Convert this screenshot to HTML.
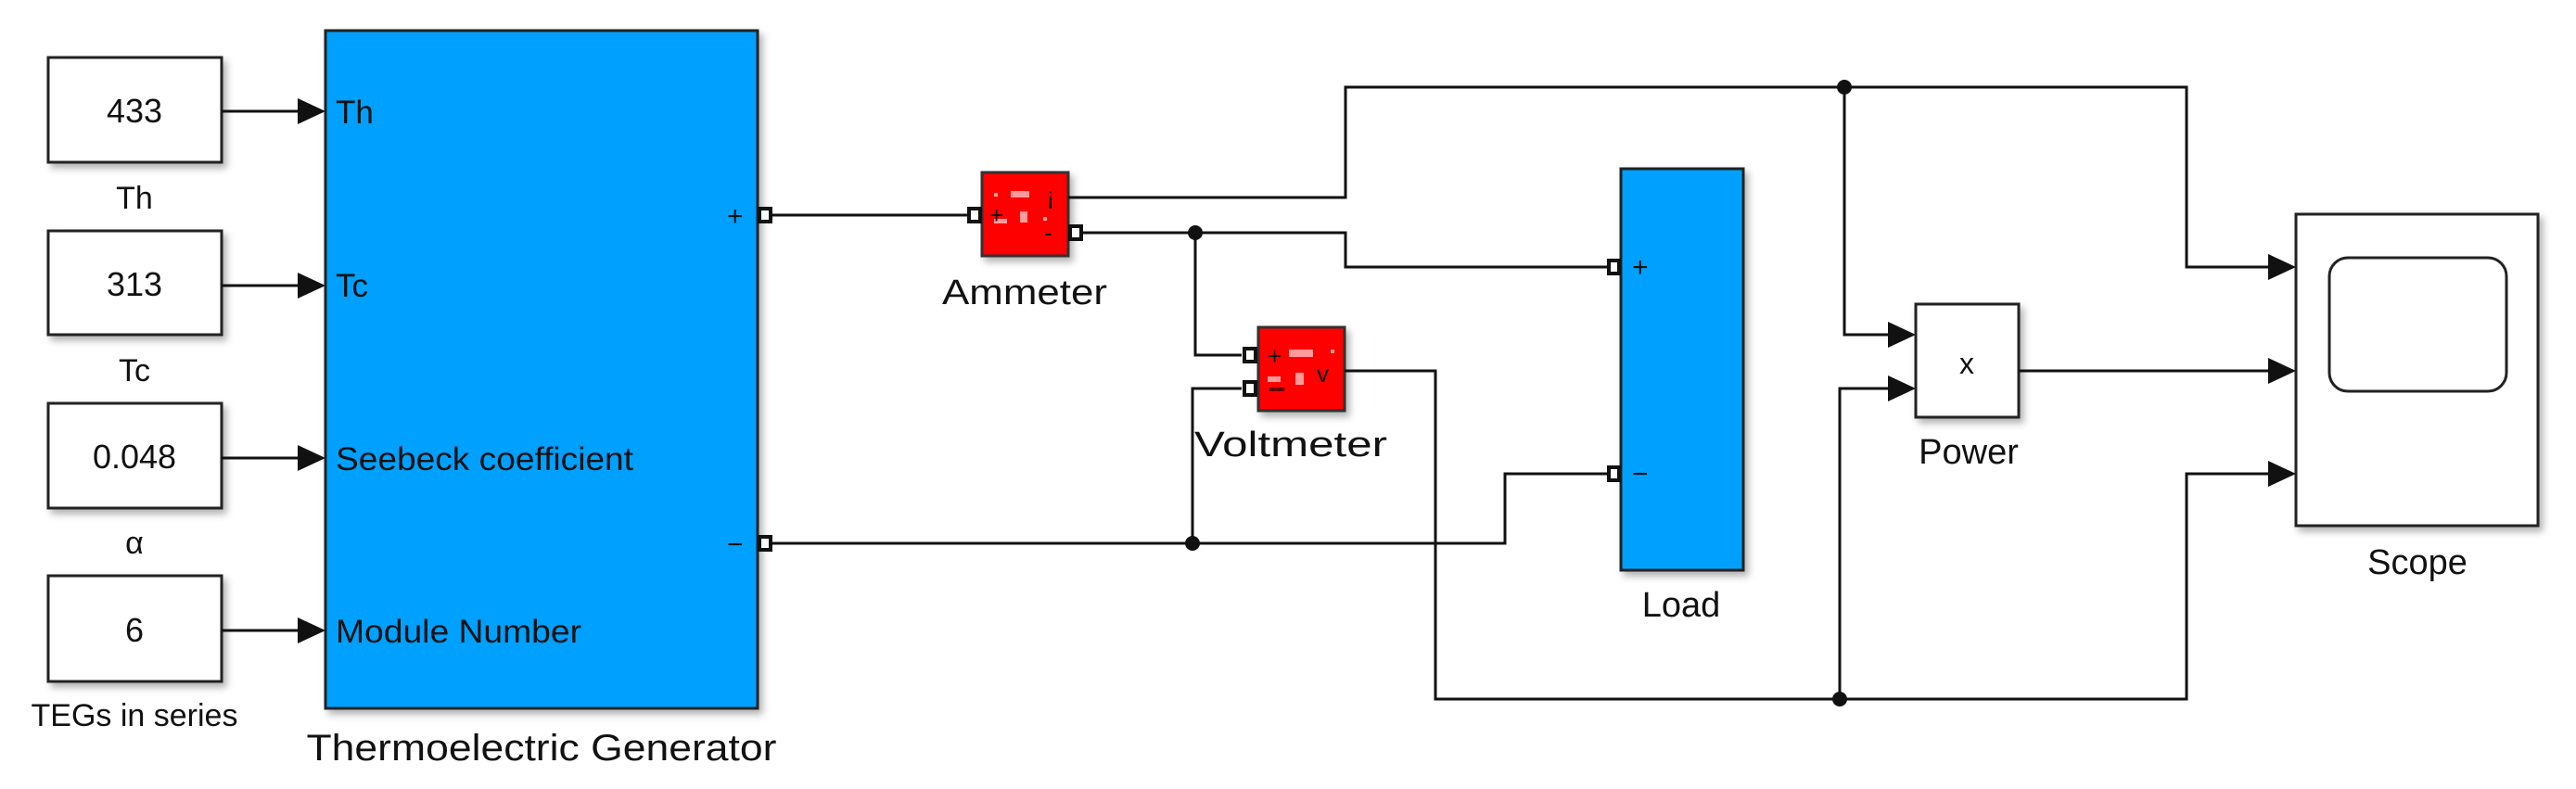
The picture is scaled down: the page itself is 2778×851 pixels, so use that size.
<!DOCTYPE html>
<html><head><meta charset="utf-8"><style>
html,body{margin:0;padding:0;background:#fff;}
svg{display:block;}
text{font-family:"Liberation Sans",Arial,sans-serif;fill:#111;}
</style></head><body>
<svg width="2778" height="851" viewBox="0 0 2778 851" xmlns="http://www.w3.org/2000/svg">
<defs>
<filter id="sh" x="-10%" y="-10%" width="130%" height="130%">
<feDropShadow dx="4" dy="5" stdDeviation="4" flood-color="#000" flood-opacity="0.3"/>
</filter>
</defs>
<rect width="2778" height="851" fill="#fff"/>

<!-- constant blocks -->
<g fill="#fff" stroke="#222" stroke-width="3" filter="url(#sh)">
<rect x="52" y="62" width="187" height="113"/>
<rect x="52" y="249" width="187" height="112"/>
<rect x="52" y="435" width="187" height="113"/>
<rect x="52" y="621" width="187" height="114"/>
</g>
<g font-size="36" text-anchor="middle">
<text x="145" y="132">433</text>
<text x="145" y="319">313</text>
<text x="145" y="505">0.048</text>
<text x="145" y="692">6</text>
</g>
<g font-size="34" text-anchor="middle">
<text x="145" y="225">Th</text>
<text x="145" y="411">Tc</text>
<text x="145" y="597">α</text>
<text x="145" y="783">TEGs in series</text>
</g>

<!-- TEG block -->
<rect x="351" y="33" width="466" height="731" fill="#00a0ff" stroke="#222" stroke-width="3" filter="url(#sh)"/>
<g font-size="35">
<text x="362" y="133">Th</text>
<text x="362" y="320">Tc</text>
<text x="362" y="507" textLength="321" lengthAdjust="spacingAndGlyphs">Seebeck coefficient</text>
<text x="362" y="693" textLength="265" lengthAdjust="spacingAndGlyphs">Module Number</text>
<text x="784" y="243" font-size="30">+</text>
<text x="784" y="597" font-size="30">−</text>
</g>
<text x="584" y="820" font-size="40" text-anchor="middle" textLength="507" lengthAdjust="spacingAndGlyphs">Thermoelectric Generator</text>

<!-- Ammeter -->
<rect x="1059" y="186" width="93" height="90" fill="#f00" stroke="#333" stroke-width="3" filter="url(#sh)"/>
<g fill="#ff9a9a"><rect x="1072" y="208" width="4" height="4"/><rect x="1090" y="206" width="20" height="7"/><rect x="1100" y="228" width="8" height="12"/><rect x="1072" y="236" width="14" height="5"/><rect x="1125" y="234" width="4" height="4"/></g>
<text x="1067" y="241" font-size="26">+</text>
<text x="1130" y="225" font-size="26">i</text>
<text x="1126" y="260" font-size="26">-</text>
<text x="1105" y="328" font-size="38" text-anchor="middle" textLength="178" lengthAdjust="spacingAndGlyphs">Ammeter</text>

<!-- Voltmeter -->
<rect x="1357" y="353" width="93" height="90" fill="#f00" stroke="#333" stroke-width="3" filter="url(#sh)"/>
<g fill="#ff9a9a"><rect x="1390" y="377" width="26" height="8"/><rect x="1435" y="377" width="4" height="4"/><rect x="1367" y="406" width="14" height="6"/><rect x="1397" y="402" width="9" height="13"/></g>
<text x="1367" y="393" font-size="26">+</text>
<text x="1420" y="412" font-size="26">v</text>
<rect x="1369" y="418" width="16" height="4" fill="#600"/>
<text x="1392" y="492" font-size="38" text-anchor="middle" textLength="208" lengthAdjust="spacingAndGlyphs">Voltmeter</text>

<!-- Load -->
<rect x="1748" y="182" width="132" height="433" fill="#00a0ff" stroke="#222" stroke-width="3" filter="url(#sh)"/>
<text x="1760" y="298" font-size="30">+</text>
<text x="1760" y="521" font-size="30">−</text>
<text x="1813" y="665" font-size="38" text-anchor="middle">Load</text>

<!-- Power -->
<rect x="2066" y="328" width="111" height="122" fill="#fff" stroke="#222" stroke-width="3" filter="url(#sh)"/>
<text x="2121" y="403" font-size="32" text-anchor="middle">x</text>
<text x="2123" y="500" font-size="38" text-anchor="middle">Power</text>

<!-- Scope -->
<rect x="2476" y="231" width="261" height="336" fill="#fff" stroke="#222" stroke-width="3" filter="url(#sh)"/>
<rect x="2512" y="278" width="191" height="144" rx="20" fill="#fff" stroke="#222" stroke-width="3"/>
<text x="2607" y="619" font-size="38" text-anchor="middle">Scope</text>

<!-- wires -->
<g fill="none" stroke="#111" stroke-width="3">
<path d="M239 120H325M239 308H325M239 494H325M239 680H325"/>
<path d="M832 232H1043"/>
<path d="M1152 213H1451V94H2358V288H2450"/>
<path d="M1989 94V361H2040"/>
<path d="M1168 251H1451V288H1733"/>
<path d="M1289 251V383H1339"/>
<path d="M1339 419H1286V586"/>
<path d="M832 586H1623V511H1733"/>
<path d="M1450 400H1548V754H2358V511H2450"/>
<path d="M1984 754V419H2040"/>
<path d="M2177 400H2450"/>
</g>
<!-- arrowheads -->
<g fill="#111">
<path d="M321 106L351 120L321 134Z"/>
<path d="M321 294L351 308L321 322Z"/>
<path d="M321 480L351 494L321 508Z"/>
<path d="M321 666L351 680L321 694Z"/>
<path d="M2446 274L2476 288L2446 302Z"/>
<path d="M2446 386L2476 400L2446 414Z"/>
<path d="M2446 497L2476 511L2446 525Z"/>
<path d="M2036 347L2066 361L2036 375Z"/>
<path d="M2036 405L2066 419L2036 433Z"/>
<circle cx="1289" cy="251" r="8"/>
<circle cx="1286" cy="586" r="8"/>
<circle cx="1989" cy="94" r="8"/>
<circle cx="1984" cy="754" r="8"/>
</g>
<!-- physical ports -->
<g fill="#fff" stroke="#111" stroke-width="4">
<rect x="819" y="225" width="12" height="14"/>
<rect x="819" y="579" width="12" height="14"/>
<rect x="1045" y="225" width="12" height="14"/>
<rect x="1154" y="244" width="12" height="14"/>
<rect x="1342" y="376" width="12" height="14"/>
<rect x="1342" y="412" width="12" height="14"/>
<rect x="1735" y="281" width="11" height="14"/>
<rect x="1735" y="504" width="11" height="14"/>
</g>
</svg>
</body></html>
